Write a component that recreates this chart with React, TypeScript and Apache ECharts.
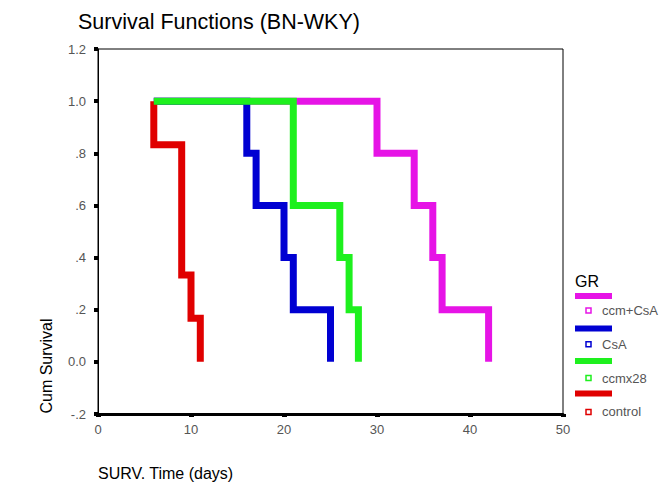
import React, { useEffect, useRef } from "react";
import * as echarts from "echarts";

// ---- data ----
const groupNames = ["ccm+CsA", "CsA", "ccmx28", "control"];
const groupColors = ["#e614e6", "#0000d2", "#1ef01e", "#e00000"];
const startTime = 6;
const ccmCsaTimes = [30, 34, 36, 37, 42];
const ccmCsaSurv = [0.8, 0.6, 0.4, 0.2, 0];
const csaTimes = [16, 17, 20, 21, 25];
const csaSurv = [0.8, 0.6, 0.4, 0.2, 0];
const ccmx28Times = [21, 26, 27, 28];
const ccmx28Surv = [0.6, 0.4, 0.2, 0];
const controlTimes = [6, 9, 10, 11];
const controlSurv = [0.833, 0.333, 0.167, 0];
const yTickLabels = ["-.2", "0.0", ".2", ".4", ".6", ".8", "1.0", "1.2"];

const FONT = "'Liberation Sans', Arial, sans-serif";

function curve(times: number[], surv: number[]) {
  const pts: number[][] = [[startTime, 1]];
  times.forEach((t, i) => pts.push([t, surv[i]]));
  return pts;
}

const curves = [
  curve(ccmCsaTimes, ccmCsaSurv),
  curve(csaTimes, csaSurv),
  curve(ccmx28Times, ccmx28Surv),
  curve(controlTimes, controlSurv),
];
// drawing order (green on top)
const drawOrder = [0, 1, 3, 2];

export default function App() {
  const ref = useRef<HTMLDivElement>(null);
  useEffect(() => {
    if (!ref.current) return;
    const chart = echarts.init(ref.current, undefined, { renderer: "svg" });

    const legendEls: any[] = [
      {
        type: "text",
        x: 575,
        y: 281,
        style: { text: "GR", font: `16px ${FONT}`, fill: "#000", textVerticalAlign: "middle", verticalAlign: "middle" },
      },
    ];
    groupNames.forEach((name, i) => {
      const barY = 296 + 32.5 * i;
      const labY = 310.5 + 33.8 * i;
      legendEls.push({
        type: "rect",
        shape: { x: 575, y: barY - 3, width: 37, height: 6 },
        style: { fill: groupColors[i] },
      });
      legendEls.push({
        type: "rect",
        shape: { x: 586, y: labY - 2.5, width: 5, height: 5 },
        style: { fill: "#fff", stroke: groupColors[i], lineWidth: 1.5 },
      });
      legendEls.push({
        type: "text",
        x: 602,
        y: labY,
        style: { text: name, font: `13px ${FONT}`, fill: "#555", textVerticalAlign: "middle", verticalAlign: "middle" },
      });
    });

    chart.setOption({
      animation: false,
      backgroundColor: "#fff",
      title: {
        text: "Survival Functions (BN-WKY)",
        left: 78,
        top: 11,
        padding: 0,
        textStyle: { fontFamily: FONT, fontSize: 21.5, fontWeight: "normal", color: "#000" },
      },
      grid: {
        left: 98,
        right: 99,
        top: 49,
        bottom: 80,
        show: true,
        borderColor: "#000",
        borderWidth: 1,
        backgroundColor: "transparent",
      },
      xAxis: {
        type: "value",
        min: 0,
        max: 50,
        interval: 10,
        splitLine: { show: false },
        axisLine: { show: true, onZero: false, lineStyle: { color: "#000", width: 3 } },
        axisTick: { show: true, length: 3, lineStyle: { color: "#000", width: 5 } },
        axisLabel: { color: "#555", fontSize: 13, fontFamily: FONT, margin: 9 },
      },
      yAxis: {
        type: "value",
        min: -0.2,
        max: 1.2,
        interval: 0.2,
        splitLine: { show: false },
        axisLine: { show: true, onZero: false, lineStyle: { color: "#000", width: 1 } },
        axisTick: { show: true, length: 4, lineStyle: { color: "#000", width: 4 } },
        axisLabel: {
          color: "#555",
          fontSize: 13,
          fontFamily: FONT,
          margin: 12,
          formatter: (v: number) => yTickLabels[Math.round((v + 0.2) / 0.2)] ?? "",
        },
      },
      series: drawOrder.map((i) => ({
        name: groupNames[i],
        type: "line",
        step: "end",
        data: curves[i],
        showSymbol: false,
        symbol: "none",
        lineStyle: { color: groupColors[i], width: 7, join: "miter", cap: "butt" },
        z: 2,
      })),
      graphic: [
        {
          type: "text",
          x: 98,
          y: 473,
          style: { text: "SURV. Time (days)", font: `16px ${FONT}`, fill: "#000", textVerticalAlign: "middle", verticalAlign: "middle" },
        },
        {
          type: "text",
          x: 46,
          y: 366,
          rotation: Math.PI / 2,
          style: {
            text: "Cum Survival",
            font: `16px ${FONT}`,
            fill: "#000",
            textAlign: "center",
            align: "center",
            textVerticalAlign: "middle",
            verticalAlign: "middle",
          },
        },
        ...legendEls,
      ],
    });
    return () => chart.dispose();
  }, []);
  return (
    <div
      ref={ref}
      style={{ position: "fixed", left: 0, top: 0, width: 662, height: 494 }}
    />
  );
}
